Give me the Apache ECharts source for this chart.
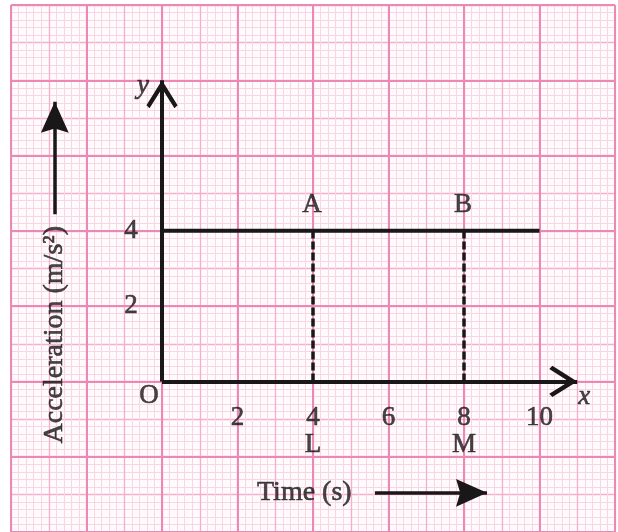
<!DOCTYPE html>
<html>
<head>
<meta charset="utf-8">
<script src="https://cdn.jsdelivr.net/npm/echarts@6/dist/echarts.min.js"></script>
<style>
  html, body { margin: 0; padding: 0; background: #fff; }
  #chart { width: 618px; height: 532px; }
</style>
</head>
<body>
<div id="chart"></div>
<script>
// acceleration - time graph data
var timeValues = [0, 10];
var accelValues = [4, 4];
var dropTimes = [4, 8];
var topLabels = ['A', 'B'];
var bottomLabels = ['L', 'M'];
var xTicks = [2, 4, 6, 8, 10];
var yTicks = [2, 4];
var xAxisEnd = 11;
var yAxisEnd = 8;

var FONT = '"Liberation Serif", "DejaVu Serif", serif';
var INK = '#1a1718';

// open chevron, tip at the centre of a square box (extra points only pad the box)
var chevron = 'path://M15,0 L30,24 L27,27 L15,8 L3,27 L0,24 Z M15,-27 L15,-27 Z M-12,0 L-12,0 Z M42,0 L42,0 Z';
// filled arrow head, padded the same way
var headPath = 'path://M13.5,0 L27,30 L13.5,26 L0,30 Z M13.5,-30 L13.5,-30 Z M-16.5,0 L-16.5,0 Z M43.5,0 L43.5,0 Z';

var chart = echarts.init(document.getElementById('chart'));

function paperAxis(interval, kind) {
    var ax = {
        type: 'value',
        interval: interval,
        axisLine: { show: false },
        axisTick: { show: false },
        axisLabel: { show: false },
        splitLine: { show: true, lineStyle: { color: kind == 'major' ? '#ec88b3' : '#f5afcc', width: kind == 'major' ? 2 : 1.3 } }
    };
    if (kind == 'minor') {
        ax.minorTick = { show: false, splitNumber: 5 };
        ax.minorSplitLine = { show: true, lineStyle: { color: '#f8d6e4', width: 1 } };
    } else {
        ax.z = 1;
    }
    return ax;
}

var xa0 = paperAxis(1, 'minor'); xa0.min = -4; xa0.max = 12;
var xa1 = paperAxis(2, 'major'); xa1.min = -4; xa1.max = 12;
var ya0 = paperAxis(1, 'minor'); ya0.min = -4; ya0.max = 10;
var ya1 = paperAxis(2, 'major'); ya1.min = -4; ya1.max = 10;

function textPoint(value, text, offset, extra) {
    var lbl = {
        show: true,
        position: 'inside',
        formatter: text,
        offset: offset,
        color: INK,
        textBorderColor: INK,
        textBorderWidth: 0.6,
        fontFamily: FONT,
        fontSize: 27
    };
    if (extra) for (var k in extra) lbl[k] = extra[k];
    return { value: value, label: lbl };
}

var labelData = [];
xTicks.forEach(function (v) { labelData.push(textPoint([v, 0], String(v), [0, 36])); });
yTicks.forEach(function (v) { labelData.push(textPoint([0, v], String(v), [-31, 0])); });
dropTimes.forEach(function (t, i) {
    labelData.push(textPoint([t, accelValues[0]], topLabels[i], [-1, -26]));
    labelData.push(textPoint([t, 0], bottomLabels[i], [0, 63]));
});
labelData.push(textPoint([0, 0], 'O', [-13, 14]));
labelData.push(textPoint([xAxisEnd, 0], 'x', [7, 15], { fontStyle: 'italic' }));
labelData.push(textPoint([0, yAxisEnd], 'y', [-19, 6], { fontStyle: 'italic' }));
labelData.push(textPoint([3.77, -2.96], 'Time (s)', [0, 0], { fontSize: 28 }));
labelData.push(textPoint([-2.84, 1.24], 'Acceleration (m/s²)', [0, 0], { rotate: 90, fontSize: 28 }));

var option = {
    backgroundColor: '#ffffff',
    animation: false,
    grid: {
        left: 11,
        top: 5,
        width: 604,
        height: 529,
        show: true,
        backgroundColor: '#fffafc',
        borderWidth: 0
    },
    xAxis: [xa0, xa1],
    yAxis: [ya0, ya1],
    series: [
        {
            // coordinate axes with open arrow heads
            type: 'lines',
            coordinateSystem: 'cartesian2d',
            z: 5,
            symbol: ['none', chevron],
            symbolSize: 56,
            lineStyle: { color: INK, width: 4, opacity: 1 },
            data: [
                { coords: [[0, 0], [xAxisEnd, 0]] },
                { coords: [[0, 0], [0, yAxisEnd]] }
            ]
        },
        {
            type: 'line',
            z: 5,
            symbol: 'none',
            lineStyle: { color: INK, width: 4 },
            data: timeValues.map(function (t, i) { return [t, accelValues[i]]; })
        },
        {
            // dashed drops A-L and B-M
            type: 'lines',
            coordinateSystem: 'cartesian2d',
            z: 4,
            lineStyle: { color: INK, width: 3.5, type: [8, 3], opacity: 1 },
            data: dropTimes.map(function (t) { return { coords: [[t, 0], [t, accelValues[0]]] }; })
        },
        {
            // direction arrows beside the axis titles
            type: 'lines',
            coordinateSystem: 'cartesian2d',
            z: 5,
            symbol: ['none', headPath],
            symbolSize: 62,
            lineStyle: { color: INK, width: 3.5, opacity: 1 },
            data: [
                { coords: [[5.64, -2.96], [8.61, -2.96]] },
                { coords: [[-2.84, 4.44], [-2.84, 7.43]] }
            ]
        },
        {
            type: 'scatter',
            z: 6,
            symbolSize: 0,
            silent: true,
            data: labelData
        }
    ]
};
chart.setOption(option);
</script>
</body>
</html>
